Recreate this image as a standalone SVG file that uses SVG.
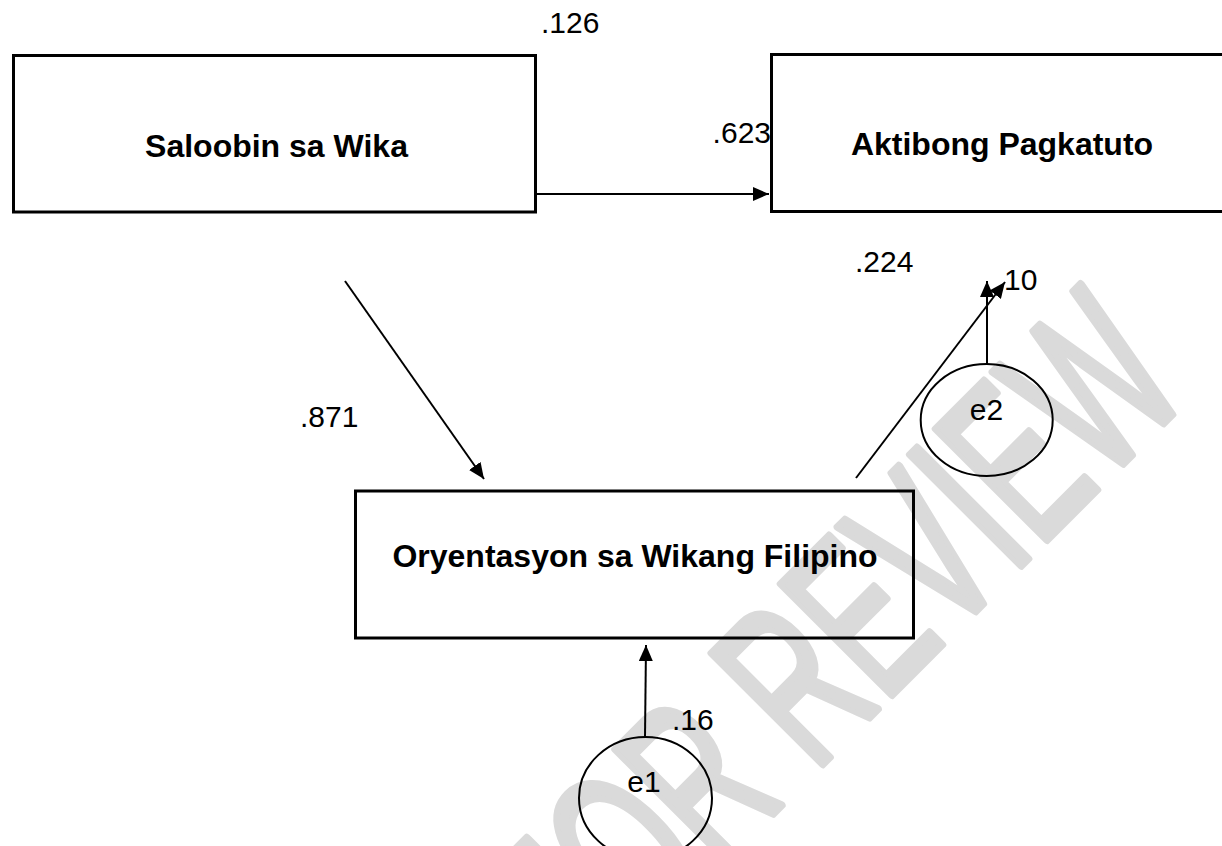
<svg xmlns="http://www.w3.org/2000/svg" width="1222" height="846" viewBox="0 0 1222 846">
  <defs>
    <style>
      .box { fill: none; stroke: #000; stroke-width: 3; }
      .ell { fill: none; stroke: #000; stroke-width: 2; }
      .conn { fill: none; stroke: #000; stroke-width: 2; }
      .lbl { font-family: "Liberation Sans", Arial, sans-serif; font-weight: bold; font-size: 32px; fill: #000; text-anchor: middle; }
      .num { font-family: "Liberation Sans", Arial, sans-serif; font-size: 30px; fill: #000; }
      .wm { font-family: "Liberation Sans", Arial, sans-serif; font-size: 228px; fill: #dadada; stroke: #dadada; stroke-width: 8; stroke-linejoin: round; }
    </style>
    <marker id="arrow" markerUnits="userSpaceOnUse" markerWidth="16" markerHeight="14" refX="16" refY="7" orient="auto">
      <path d="M0,0 L16,7 L0,14 z" fill="#000"/>
    </marker>
  </defs>
  <rect x="0" y="0" width="1222" height="846" fill="#fff"/>

  <g id="watermark">
    <text class="wm" x="-296" y="1122" textLength="861" lengthAdjust="spacingAndGlyphs" transform="rotate(-45)">FOR REVIEW</text>
  </g>

  <g id="connectors">
    <line class="conn" x1="537" y1="194" x2="769" y2="194" marker-end="url(#arrow)"/>
    <line class="conn" x1="345" y1="281" x2="484" y2="479" marker-end="url(#arrow)"/>
    <line class="conn" x1="856" y1="478" x2="1005" y2="282" marker-end="url(#arrow)"/>
    <line class="conn" x1="987" y1="364" x2="987" y2="281" marker-end="url(#arrow)"/>
    <line class="conn" x1="645" y1="737" x2="646" y2="645" marker-end="url(#arrow)"/>
  </g>

  <g id="node-saloobin">
    <rect class="box" x="13.5" y="55.5" width="522" height="156.5"/>
    <text class="lbl" x="276.5" y="157">Saloobin sa Wika</text>
  </g>

  <g id="node-aktibong">
    <rect class="box" x="771.5" y="54.5" width="470" height="157"/>
    <text class="lbl" x="1002" y="155">Aktibong Pagkatuto</text>
  </g>

  <g id="node-oryentasyon">
    <rect class="box" x="355.5" y="491" width="558" height="147"/>
    <text class="lbl" x="635" y="567">Oryentasyon sa Wikang Filipino</text>
  </g>

  <g id="node-e2">
    <ellipse class="ell" cx="986.7" cy="420" rx="66" ry="56"/>
    <text class="num" x="986.5" y="420" text-anchor="middle">e2</text>
  </g>

  <g id="node-e1">
    <ellipse class="ell" cx="645.5" cy="798" rx="66.5" ry="61"/>
    <text class="num" x="644" y="792" text-anchor="middle">e1</text>
  </g>

  <g id="labels">
    <text class="num" x="541" y="33">.126</text>
    <text class="num" x="771" y="143" text-anchor="end">.623</text>
    <text class="num" x="855" y="272">.224</text>
    <text class="num" x="1004" y="290">10</text>
    <text class="num" x="300" y="427">.871</text>
    <text class="num" x="672" y="730">.16</text>
  </g>
</svg>
